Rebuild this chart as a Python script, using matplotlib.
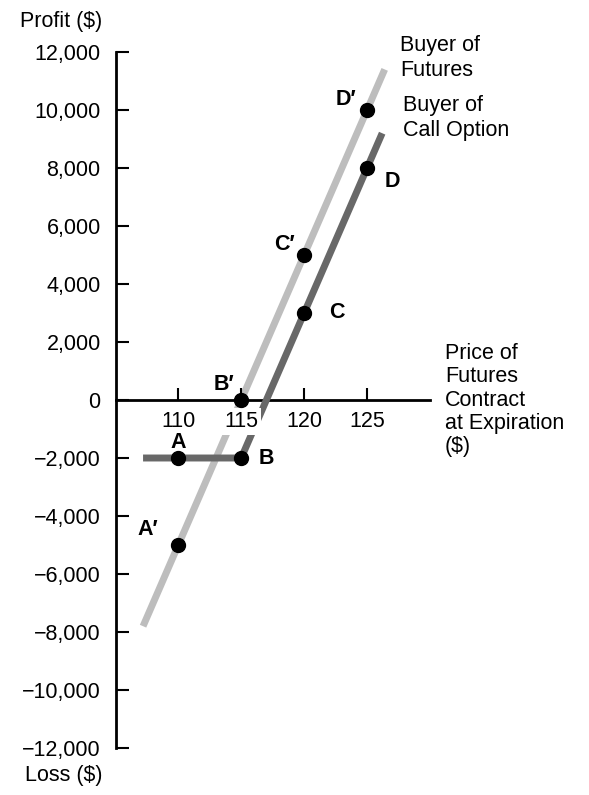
import matplotlib
matplotlib.use("Agg")
import matplotlib.pyplot as plt

# data
futures_x = [107.2, 126.4]
futures_y = [-7800, 11400]
call_x = [107.2, 115, 126.2]
call_y = [-2000, -2000, 9200]

call_pts_x = [110, 115, 120, 125]
call_pts_y = [-2000, -2000, 3000, 8000]
call_names = ["A", "B", "C", "D"]

fut_pts_x = [110, 115, 120, 125]
fut_pts_y = [-5000, 0, 5000, 10000]
fut_names = ["A\u2032", "B\u2032", "C\u2032", "D\u2032"]

x_ticks = [110, 115, 120, 125]
y_ticks = list(range(-12000, 12001, 2000))

plt.rcParams['font.family'] = ['Liberation Sans', 'DejaVu Sans']
fs = 15.5

fig = plt.figure(figsize=(5.89, 7.95), dpi=100)
ax = fig.add_axes([116/589, 1 - 748/795, (430 - 116)/589, (748 - 52)/795])
ax.set_xlim(105.05, 130)
ax.set_ylim(-12000, 12000)

ax.plot(futures_x, futures_y, color='#bdbdbd', lw=5, solid_capstyle='butt', zorder=1.2)
ax.plot(call_x, call_y, color='#686868', lw=5, solid_capstyle='butt', zorder=1.3)
ax.plot(call_pts_x, call_pts_y, 'o', color='black', ms=10, zorder=4)
ax.plot(fut_pts_x, fut_pts_y, 'o', color='black', ms=10, zorder=4)

ax.spines['top'].set_visible(False)
ax.spines['right'].set_visible(False)
ax.spines['bottom'].set_position(('data', 0))
ax.spines['left'].set_linewidth(2)
ax.spines['bottom'].set_linewidth(2)
ax.spines['bottom'].set_zorder(1.1)

ax.set_xticks(x_ticks)
ax.set_xticklabels([str(v) for v in x_ticks])
ax.set_yticks(y_ticks)
ax.set_yticklabels(["0" if v == 0 else f"{v:,}".replace("-", "\u2212") for v in y_ticks])
ax.tick_params(axis='x', direction='in', length=9, width=1.5, labelsize=fs, pad=8)
ax.tick_params(axis='y', direction='in', length=9, width=1.5, labelsize=fs, pad=11)
for lab in ax.get_xticklabels():
    lab.set_bbox(dict(facecolor='white', edgecolor='none', pad=2))
    lab.set_zorder(3)

# point labels
bold = dict(fontsize=fs, fontweight='bold', zorder=3,
            bbox=dict(facecolor='white', edgecolor='none', pad=1))
ax.text(110, -1450, call_names[0], ha='center', va='center', **bold)
ax.text(117.0, -2000, call_names[1], ha='center', va='center', **bold)
ax.text(122.6, 3000, call_names[2], ha='center', va='center', **bold)
ax.text(127.0, 7550, call_names[3], ha='center', va='center', **bold)
ax.text(107.6, -4450, fut_names[0], ha='center', va='center', **bold)
ax.text(113.6, 550, fut_names[1], ha='center', va='center', **bold)
ax.text(118.4, 5350, fut_names[2], ha='center', va='center', **bold)
ax.text(123.3, 10350, fut_names[3], ha='center', va='center', **bold)

# captions
fig.text(20/589, 1 - 22/795, "Profit ($)", fontsize=fs, va='center', ha='left')
fig.text(25/589, 1 - 776/795, "Loss ($)", fontsize=fs, va='center', ha='left')
fig.text(400/589, 1 - 58/795, "Buyer of\nFutures", fontsize=fs, va='center', ha='left',
         linespacing=1.2)
fig.text(403/589, 1 - 118/795, "Buyer of\nCall Option", fontsize=fs, va='center', ha='left',
         linespacing=1.2)
fig.text(445/589, 1 - 400/795, "Price of\nFutures\nContract\nat Expiration\n($)",
         fontsize=fs, va='center', ha='left', linespacing=1.15)

fig.savefig("out.png", dpi=100)
